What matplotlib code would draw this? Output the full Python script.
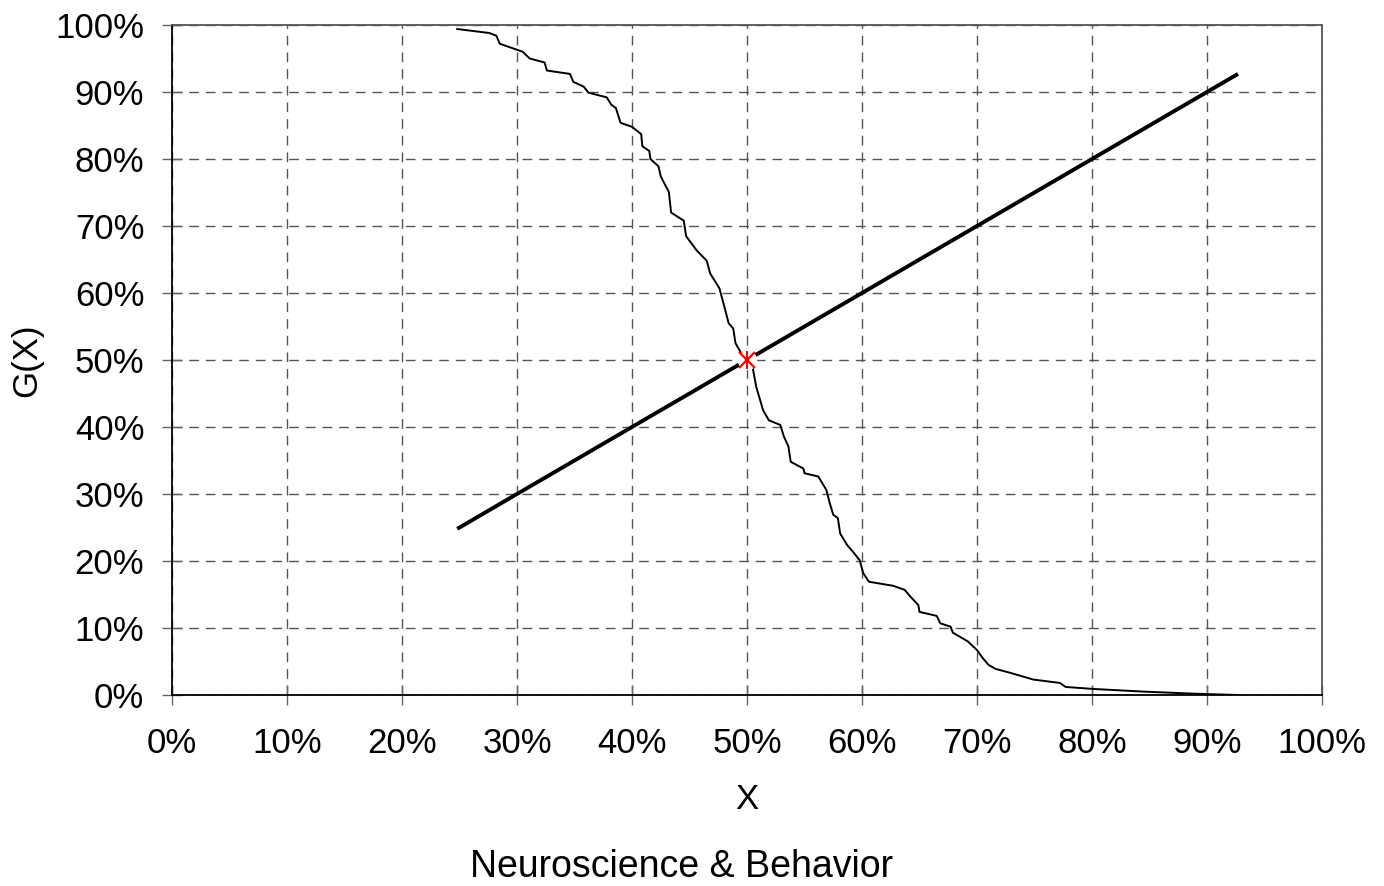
import matplotlib
matplotlib.use("Agg")
import matplotlib.pyplot as plt

plt.rcParams['font.family'] = ['Liberation Sans', 'DejaVu Sans']

# Share of papers (X, %) vs. cumulative fraction G(X) (%)
x_vals = [24.8, 27.6, 28.2, 28.5, 30.5, 31.1, 32.4, 32.6, 34.6, 34.9, 35.8, 36.2,
          37.8, 38.2, 38.6, 39.0, 40.0, 40.8, 40.9, 41.5, 41.6, 42.3, 42.5, 42.8,
          43.2, 43.4, 44.5, 44.7, 45.6, 46.5, 46.8, 47.6, 48.1, 48.4, 48.8, 49.0,
          49.5, 50.0, 50.5, 50.8, 51.4, 51.9, 52.9, 53.2, 53.6, 53.8, 54.9, 55.0,
          56.2, 56.9, 57.2, 57.5, 57.9, 58.1, 58.7, 59.2, 59.8, 60.1, 60.6, 62.7,
          63.7, 64.2, 64.9, 65.0, 66.5, 66.8, 67.7, 67.9, 69.2, 70.0, 70.5, 71.0,
          71.6, 72.9, 74.9, 77.2, 77.7, 80.1, 84.5, 88.8, 92.6]
g_vals = [99.4, 98.8, 98.4, 97.2, 96.0, 95.0, 94.4, 93.2, 92.7, 91.5, 90.8, 89.9,
          89.2, 88.1, 87.6, 85.4, 84.8, 83.7, 81.9, 81.2, 80.0, 78.9, 77.4, 76.4,
          75.1, 72.0, 70.8, 68.5, 66.4, 64.8, 62.9, 60.7, 57.5, 55.5, 54.7, 52.5,
          51.0, 50.0, 48.8, 46.0, 42.5, 41.0, 40.3, 38.6, 37.1, 34.8, 33.8, 33.1,
          32.6, 30.6, 28.6, 26.9, 26.4, 24.1, 22.4, 21.4, 20.1, 18.2, 16.9, 16.3,
          15.7, 14.7, 13.4, 12.4, 11.8, 10.7, 10.2, 9.3, 8.0, 6.7, 5.5, 4.5,
          3.9, 3.3, 2.3, 1.8, 1.2, 0.9, 0.5, 0.2, 0.0]

# Reference diagonal G = X
diag_x = [24.8, 92.7]
diag_y = [24.8, 92.7]

# Crossing point
cross_x = 50.0
cross_y = 50.0

tick_vals = list(range(0, 101, 10))
tick_labels = [f"{v}%" for v in tick_vals]

fig = plt.figure(figsize=(13.84, 8.86), dpi=100)
ax = fig.add_axes([0.1243, 0.2156, 0.8309, 0.7562])

ax.plot(x_vals, g_vals, color='black', lw=1.4, zorder=3)
ax.plot(diag_x, diag_y, color='black', lw=2.8, solid_capstyle='butt', zorder=3)

# white patch behind the marker, then red asterisk
ax.plot([cross_x], [cross_y], marker='o', ms=14, color='white', mec='none', zorder=4)
ax.plot([cross_x], [cross_y], marker='x', ms=11, mew=1.6, color='red', zorder=5)
ax.plot([cross_x], [cross_y], marker='|', ms=13, mew=1.5, color='red', zorder=5)

ax.set_xlim(0, 100)
ax.set_ylim(0, 100)
ax.set_xticks(tick_vals)
ax.set_xticklabels(tick_labels)
ax.set_yticks(tick_vals)
ax.set_yticklabels(tick_labels)
ax.tick_params(axis='both', labelsize=25, length=14, width=1, direction='inout',
               color='#666666')
ax.tick_params(axis='y', pad=13)
ax.tick_params(axis='x', pad=16)

ax.grid(True, which='major', color='#555555', lw=1, linestyle=(0, (7, 5)))
ax.set_axisbelow(True)

for side in ('left', 'bottom'):
    ax.spines[side].set_color('black')
    ax.spines[side].set_linewidth(1.3)
for side in ('top', 'right'):
    ax.spines[side].set_color('#555555')
    ax.spines[side].set_linewidth(1.3)

ax.set_xlabel('X', fontsize=25)
ax.xaxis.set_label_coords(0.5, (695 - 800) / 670)
ax.xaxis.label.set_va('center')
ax.set_ylabel('G(X)', fontsize=25)
ax.yaxis.set_label_coords((27 - 172) / 1150, 0.5)
ax.yaxis.label.set_va('center')

fig.text(682 / 1384, 1 - 877 / 886, 'Neuroscience & Behavior', ha='center',
         va='baseline', fontsize=27)

fig.savefig('out.png', dpi=100)
